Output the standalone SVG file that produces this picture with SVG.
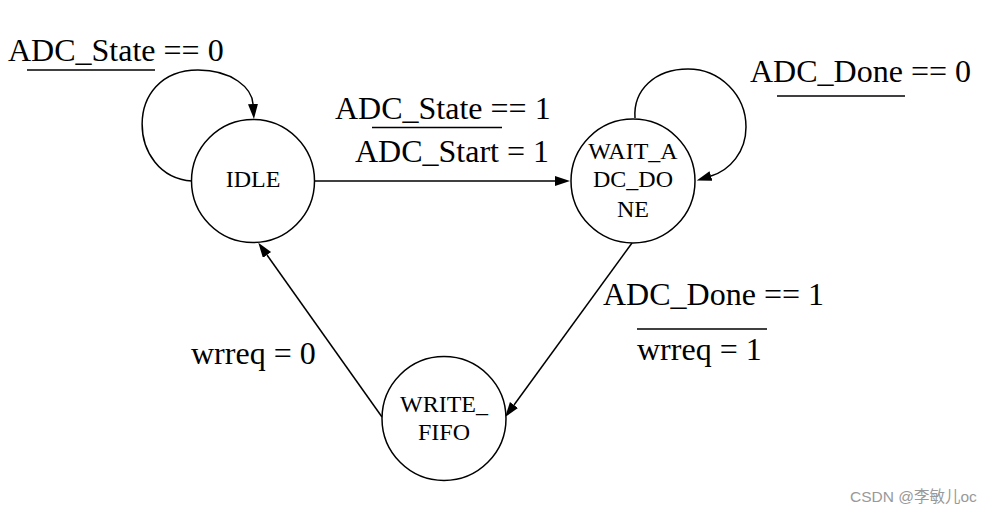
<svg xmlns="http://www.w3.org/2000/svg" width="996" height="515" viewBox="0 0 996 515">
<style>
.node circle{fill:#fff;stroke:#000;stroke-width:1.5}
.nl{font-family:'Liberation Serif','Times New Roman',serif;font-size:24px;text-anchor:middle;fill:#000}
.edge{fill:none;stroke:#000;stroke-width:1.5}
.el{font-family:'Liberation Serif','Times New Roman',serif;font-size:32px;fill:#000}
.rule{stroke:#000;stroke-width:1.6}
.wm{font-family:'Liberation Sans','Noto Sans CJK SC',sans-serif;font-size:15.5px;fill:#999}
</style>
<defs>
<marker id="arr" markerUnits="userSpaceOnUse" markerWidth="16" markerHeight="11" refX="0" refY="5" orient="auto">
<path d="M0,0 L15,5 L0,10 z" fill="#000"/>
</marker>
</defs>
<rect width="996" height="515" fill="#fff"/>
<g id="connectors">
<g id="e-idle-idle">
<path class="edge" d="M192,181 C127,177 122,70 198,70 C232,70 252,88 253,104" marker-end="url(#arr)"/>
<text class="el" x="8" y="61">ADC_State == 0</text>
<line class="rule" x1="27" y1="70" x2="155" y2="70"/>
</g>
<g id="e-idle-wait">
<path class="edge" d="M315,181 L555,181" marker-end="url(#arr)"/>
<text class="el" x="335" y="119">ADC_State == 1</text>
<line class="rule" x1="372" y1="127.5" x2="502" y2="127.5"/>
<text class="el" x="355" y="162">ADC_Start = 1</text>
</g>
<g id="e-wait-wait">
<path class="edge" d="M635,118 C633,90 655,69 688,69 C720,69 746,95 746,127 C746,152 730,170 711,176" marker-end="url(#arr)"/>
<text class="el" x="750" y="82">ADC_Done == 0</text>
<line class="rule" x1="777" y1="96" x2="905" y2="96"/>
</g>
<g id="e-wait-write">
<path class="edge" d="M632,243 L514,405" marker-end="url(#arr)"/>
<text class="el" x="603" y="305">ADC_Done == 1</text>
<line class="rule" x1="637" y1="329" x2="767" y2="329"/>
<text class="el" x="637" y="360">wrreq = 1</text>
</g>
<g id="e-write-idle">
<path class="edge" d="M382,417 L267,255" marker-end="url(#arr)"/>
<text class="el" x="191" y="364">wrreq = 0</text>
</g>
</g>
<g id="IDLE" class="node">
<circle cx="253" cy="181" r="61.5"/>
<text class="nl" x="253" y="187">IDLE</text>
</g>
<g id="WAIT_ADC_DONE" class="node">
<circle cx="633" cy="181" r="62"/>
<text class="nl" x="633" y="158.5">WAIT_A</text>
<text class="nl" x="633" y="187">DC_DO</text>
<text class="nl" x="633" y="216.5">NE</text>
</g>
<g id="WRITE_FIFO" class="node">
<circle cx="444" cy="418.5" r="62"/>
<text class="nl" x="444" y="412">WRITE_</text>
<text class="nl" x="444" y="440">FIFO</text>
</g>
<text class="wm" x="850" y="502">CSDN @李敏儿oc</text>
</svg>
